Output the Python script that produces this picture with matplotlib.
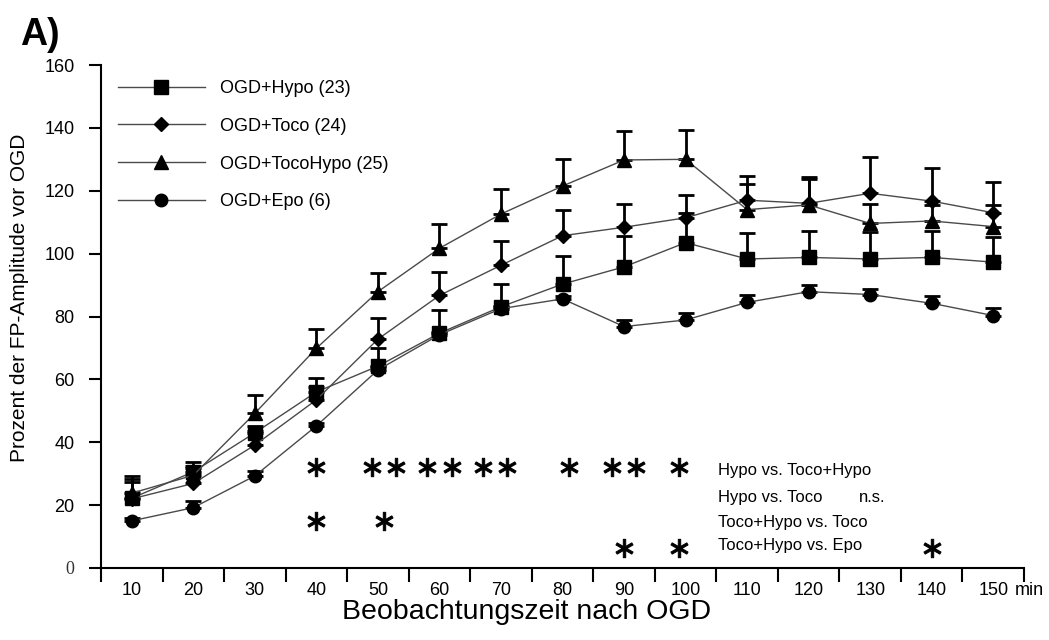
import numpy as np
import matplotlib
matplotlib.use("Agg")
import matplotlib.pyplot as plt

# Zeitpunkte nach OGD (min)
minutes = [10, 20, 30, 40, 50, 60, 70, 80, 90, 100, 110, 120, 130, 140, 150]

# Mittelwerte (Prozent der FP-Amplitude vor OGD)
hypo = [22.2, 30.6, 43.0, 56.0, 64.2, 74.7, 83.1, 90.3, 95.8, 103.5, 98.3, 98.8, 98.3, 98.8, 97.3]
toco = [22.0, 26.9, 39.1, 53.5, 72.8, 86.7, 96.3, 105.7, 108.4, 111.4, 117.0, 116.0, 119.2, 116.7, 113.0]
tocohypo = [23.8, 29.5, 49.2, 69.9, 87.9, 101.7, 112.6, 121.5, 129.8, 130.0, 114.0, 115.5, 109.6, 110.4, 108.6]
epo = [15.0, 19.2, 29.3, 45.2, 63.0, 74.2, 82.5, 85.6, 76.8, 78.9, 84.5, 87.9, 87.0, 84.2, 80.3]

# Fehlerbalken (nur nach oben)
hypo_err = [6.0, 3.0, 2.3, 4.5, 5.8, 7.5, 7.2, 8.9, 9.9, 9.3, 8.4, 8.5, 8.7, 8.5, 7.9]
toco_err = [5.5, 5.0, 4.5, 4.0, 6.7, 7.6, 7.8, 8.2, 7.5, 7.4, 7.7, 8.5, 11.6, 10.4, 9.7]
tocohypo_err = [5.5, 3.0, 5.8, 6.1, 6.0, 7.6, 7.9, 8.7, 9.1, 9.3, 8.0, 8.1, 6.2, 5.0, 6.9]
epo_err = [1.0, 2.2, 1.5, 1.0, 1.0, 1.0, 1.0, 1.0, 2.1, 2.3, 2.3, 2.0, 1.7, 2.3, 2.3]

labels = ["OGD+Hypo (23)", "OGD+Toco (24)", "OGD+TocoHypo (25)", "OGD+Epo (6)"]

# Signifikanz-Sterne (Position in min)
stars_row1 = [40, 49, 53, 58, 62, 67, 71, 81, 88, 92, 99]
stars_row2 = [40, 51]
stars_row3 = [90, 99, 140]
star_levels = [32.2, 14.9, 6.4]

comparisons = ["Hypo vs. Toco+Hypo", "Hypo vs. Toco", "Toco+Hypo vs. Toco", "Toco+Hypo vs. Epo"]
comp_levels = [29.6, 21.1, 13.1, 5.7]

plt.rcParams["font.family"] = ["Liberation Sans", "DejaVu Sans"]

fig = plt.figure(figsize=(10.49, 6.4), dpi=100)
ax = fig.add_axes([0.0963, 0.1125, 0.8799, 0.7859])

x = np.arange(len(minutes))
step = minutes[1] - minutes[0]


def to_idx(m):
    return (np.asarray(m, dtype=float) - minutes[0]) / step


series = [
    (hypo, hypo_err, "s", 9.5),
    (toco, toco_err, "D", 7.5),
    (tocohypo, tocohypo_err, "^", 10),
    (epo, epo_err, "o", 9),
]

for (vals, err, mk, ms), lab in zip(series, labels):
    ax.errorbar(x, vals, yerr=[np.zeros(len(err)), err], fmt="none",
                ecolor="black", elinewidth=2, capsize=6, capthick=2, zorder=2)
    ax.plot(x, vals, "-", color="#4a4a4a", lw=1, marker=mk, ms=ms,
            mfc="black", mec="black", label=lab, zorder=3)

# Sterne
for row, lvl in zip([stars_row1, stars_row2, stars_row3], star_levels):
    ax.scatter(to_idx(row), [lvl] * len(row), marker=r"$\ast$", s=175,
               color="black", edgecolors="black", linewidths=0.7, zorder=4)

# Vergleichstexte
for txt, lvl in zip(comparisons, comp_levels):
    ax.text(9.52, lvl, txt, fontsize=12, ha="left", va="baseline")
ax.text(11.82, comp_levels[1], "n.s.", fontsize=12, ha="left", va="baseline")

ax.set_xlim(-0.5, len(minutes) - 0.5)
ax.set_ylim(0, 160)
ax.set_yticks(range(0, 161, 20))
ax.set_xticks(np.arange(-0.5, len(minutes), 1.0))
ax.set_xticklabels([])
ax.set_xticks(x, minor=True)
ax.set_xticklabels([str(m) for m in minutes], minor=True, fontsize=13)

ax.tick_params(axis="x", which="major", direction="out", length=10, width=1.5)
ax.tick_params(axis="x", which="minor", length=0, pad=10)
ax.tick_params(axis="y", direction="out", length=9, width=1.5, labelsize=13, pad=10)
for lab in ax.get_yticklabels():
    if lab.get_text() == "0":
        lab.set_family(["Liberation Serif", "DejaVu Serif"])
        lab.set_color("#333333")

ax.annotate("min", xy=(1, 0), xycoords="axes fraction", xytext=(-6.5, -10),
            textcoords="offset points", ha="left", va="top", fontsize=13)

for side in ["top", "right"]:
    ax.spines[side].set_visible(False)
for side in ["left", "bottom"]:
    ax.spines[side].set_linewidth(1.5)

leg = ax.legend(loc="upper left", bbox_to_anchor=(118 / 1049, 1 - 80 / 640),
                bbox_transform=fig.transFigure, frameon=False, fontsize=13,
                handlelength=4.8, handletextpad=0.85, labelspacing=1.15,
                borderpad=0, borderaxespad=0, numpoints=1)

fig.text(0.019, 0.534, "Prozent der FP-Amplitude vor OGD", rotation=90,
         ha="center", va="center", fontsize=15)
fig.text(0.502, 0.043, "Beobachtungszeit nach OGD", ha="center", va="center", fontsize=20.5)
fig.text(0.019, 1 - 45 / 640, "A)", ha="left", va="baseline", fontsize=27, fontweight="bold")

fig.savefig("out.png", dpi=100)
